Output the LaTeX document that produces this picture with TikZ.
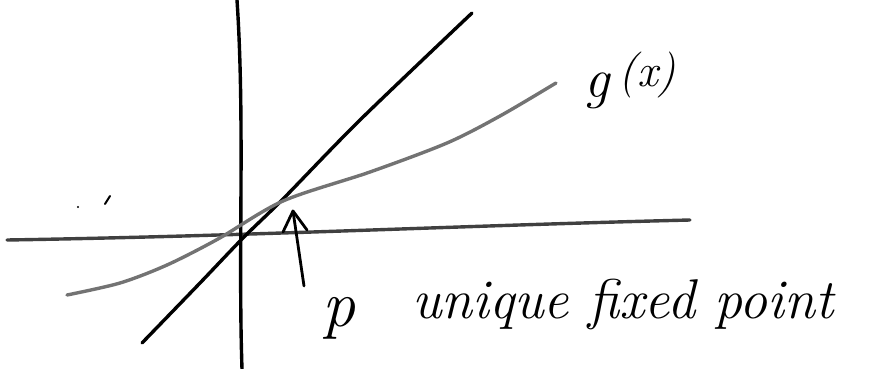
\documentclass[tikz,border=0pt]{standalone}
\usetikzlibrary{calc}
\begin{document}
\begin{tikzpicture}[x=1pt,y=-1pt,
  axis/.style={line width=3.4pt,black,line cap=round},
  gcurve/.style={line width=3.4pt,black!55,line cap=round},
  pen/.style={line width=2.8pt,black,line cap=round,line join=round},
  hand/.style={font=\fontsize{56}{60}\selectfont\itshape,inner sep=0pt,anchor=base west}]
\useasboundingbox (0,0) rectangle (873,369);
% axes
\coordinate (xl) at (7,240);
\coordinate (xr) at (690,220);
\coordinate (yt) at (237,0);
\coordinate (yb) at (242,369);
\draw[axis,black!75] (xl) .. controls (250,236) and (450,226) .. (xr);
\draw[axis] (yt) .. controls (245,120) and (238,250) .. (yb);
% line y = x
\coordinate (la) at (142,343);
\coordinate (lb) at (472,13);
\draw[axis] plot[smooth] coordinates {(la) (200,283) (243,238) (283,199) (360,120) (lb)};
% g(x)
\coordinate (ga) at (67,295);
\coordinate (gb) at (556,83);
\draw[gcurve] plot[smooth,tension=0.5] coordinates {(ga) (120,283) (167,265) (218,239) (283,201) (370,172) (447,143) (500,116) (gb)};
% arrow to p
\coordinate (at) at (293,211);
\coordinate (ab) at (304,286);
\coordinate (aw1) at (283,232);
\coordinate (aw2) at (307,230);
\draw[pen] (ab) -- (at);
\draw[pen] (aw1) -- (at) -- (aw2);
% stray marks
\fill (78,207) circle (1.2pt);
\draw[pen,line width=2pt] (105,204) -- (110,196);
% labels
\node[hand,font=\fontsize{66}{70}\selectfont\itshape] (p) at (322,326) {p};
\node[hand] (lbl) at (412,318) {unique fixed point};
\node[hand] (gx) at (584,97) {g\,\raisebox{10pt}{\fontsize{46}{50}\selectfont(x)}};
\end{tikzpicture}
\end{document}
